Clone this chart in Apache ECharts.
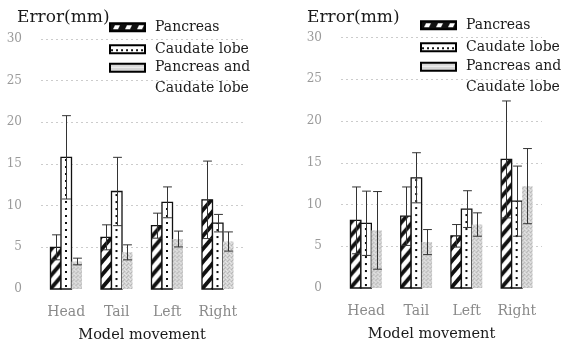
<!DOCTYPE html>
<html>
<head>
<meta charset="utf-8">
<script src="https://cdn.jsdelivr.net/npm/echarts@6/dist/echarts.min.js"></script>
<style>
html,body{margin:0;padding:0;background:#fff;}
#chart{width:567px;height:342px;}
</style>
</head>
<body>
<div id="chart"></div>
<script>
// ---- data ----
const categories = ['Head', 'Tail', 'Left', 'Right'];
const seriesNames = ['Pancreas', 'Caudate lobe', 'Pancreas and Caudate lobe'];
const yMin = 0, yMax = 30, yStep = 5;

// left panel: mean and SD
const leftPancreas   = [5.0, 6.2, 7.6, 10.7];
const leftPancreasSD = [1.5, 1.5, 1.5, 4.65];
const leftCaudate    = [15.8, 11.7, 10.4, 7.9];
const leftCaudateSD  = [5.0, 4.1, 1.85, 1.05];
const leftBoth       = [3.3, 4.4, 6.0, 5.7];
const leftBothSD     = [0.4, 0.9, 0.95, 1.15];

// right panel: mean and SD
const rightPancreas   = [8.1, 8.6, 6.25, 15.4];
const rightPancreasSD = [4.0, 3.5, 1.35, 7.0];
const rightCaudate    = [7.75, 13.2, 9.45, 10.4];
const rightCaudateSD  = [3.85, 3.0, 2.2, 4.2];
const rightBoth       = [6.9, 5.5, 7.6, 12.2];
const rightBothSD     = [4.65, 1.5, 1.4, 4.5];

// ---- patterns ----
function makeTile(w, h, draw) {
  const c = document.createElement('canvas');
  c.width = w; c.height = h;
  const ctx = c.getContext('2d');
  draw(ctx, w, h);
  return { image: c, repeat: 'repeat' };
}
const stripePattern = makeTile(11, 13, (ctx, w, h) => {
  ctx.fillStyle = '#fff'; ctx.fillRect(0, 0, w, h);
  ctx.strokeStyle = '#111'; ctx.lineWidth = 3.8;
  for (let k = -1; k <= 1; k++) {
    ctx.beginPath();
    ctx.moveTo(-2, k * h + h + 2 * h / w);
    ctx.lineTo(w + 2, k * h - 2 * h / w);
    ctx.stroke();
  }
});
const dotPattern = makeTile(10, 7, (ctx, w, h) => {
  ctx.fillStyle = '#fff'; ctx.fillRect(0, 0, w, h);
  ctx.fillStyle = '#111'; ctx.fillRect(4, 3, 2, 2);
});
const grayPattern = makeTile(4, 4, (ctx, w, h) => {
  ctx.fillStyle = '#d2d2d2'; ctx.fillRect(0, 0, w, h);
  ctx.fillStyle = '#b8b8b8'; ctx.fillRect(0, 0, 1, 1); ctx.fillRect(2, 2, 1, 1); ctx.fillRect(1, 3, 1, 1);
  ctx.fillStyle = '#e6e6e6'; ctx.fillRect(2, 0, 1, 1); ctx.fillRect(0, 2, 1, 1); ctx.fillRect(3, 1, 1, 1);
});
// legend swatches
const legStripe = makeTile(12, 8, (ctx, w, h) => {
  ctx.fillStyle = '#111'; ctx.fillRect(0, 0, w, h);
  ctx.fillStyle = '#fff';
  ctx.beginPath(); ctx.moveTo(3, 6); ctx.lineTo(8, 6); ctx.lineTo(10, 2); ctx.lineTo(5, 2); ctx.closePath(); ctx.fill();
});
const legDot = makeTile(5, 8, (ctx, w, h) => {
  ctx.fillStyle = '#fff'; ctx.fillRect(0, 0, w, h);
  ctx.fillStyle = '#111'; ctx.fillRect(1, 4, 2, 2);
});
const legGray = makeTile(4, 8, (ctx, w, h) => {
  ctx.fillStyle = '#d6d6d6'; ctx.fillRect(0, 0, w, h);
  ctx.fillStyle = '#f2f2f2'; ctx.fillRect(0, 3, w, 1);
});

const fontFamily = '"DejaVu Serif", serif';
const barStyles = [
  { fill: stripePattern, stroke: '#111', lineWidth: 1.3 },
  { fill: dotPattern, stroke: '#111', lineWidth: 1.3 },
  { fill: grayPattern, stroke: null, lineWidth: 0 }
];
const BAR_FRAC = 0.208;

function barSeries(name, idx, gridIdx, means) {
  return {
    type: 'custom', name: name,
    xAxisIndex: gridIdx, yAxisIndex: gridIdx,
    itemStyle: { color: barStyles[idx].fill, borderColor: '#111', borderWidth: 1.3 },
    encode: { x: 0, y: 1 },
    data: means.map((v, i) => [i, v]),
    z: 2,
    renderItem: function (params, api) {
      const base = api.coord([api.value(0), 0]);
      const top = api.coord([api.value(0), api.value(1)]);
      const band = api.size([1, 0])[0];
      const w = band * BAR_FRAC;
      const cx = base[0] + (idx - 1) * w;
      const st = barStyles[idx];
      return {
        type: 'rect',
        x: cx - w / 2, y: base[1],
        shape: { x: 0, y: top[1] - base[1], width: w, height: base[1] - top[1] },
        style: { fill: st.fill, stroke: st.stroke, lineWidth: st.lineWidth }
      };
    }
  };
}
function errSeries(name, idx, gridIdx, means, sds) {
  return {
    type: 'custom', name: name + ' SD',
    xAxisIndex: gridIdx, yAxisIndex: gridIdx,
    encode: { x: 0, y: [1, 2] },
    data: means.map((v, i) => [i, v + sds[i], v - sds[i]]),
    z: 3,
    renderItem: function (params, api) {
      const hi = api.coord([api.value(0), api.value(1)]);
      const lo = api.coord([api.value(0), api.value(2)]);
      const band = api.size([1, 0])[0];
      const w = band * BAR_FRAC;
      const cx = Math.round(hi[0] + (idx - 1) * w) + 0.5;
      const cap = w * 0.42;
      const ls = { stroke: '#333', lineWidth: 1 };
      return {
        type: 'group',
        children: [
          { type: 'line', shape: { x1: cx, y1: hi[1], x2: cx, y2: lo[1] }, style: ls },
          { type: 'line', shape: { x1: cx - cap, y1: hi[1], x2: cx + cap, y2: hi[1] }, style: ls },
          { type: 'line', shape: { x1: cx - cap, y1: lo[1], x2: cx + cap, y2: lo[1] }, style: ls }
        ]
      };
    }
  };
}

const panels = [
  { means: [leftPancreas, leftCaudate, leftBoth], sds: [leftPancreasSD, leftCaudateSD, leftBothSD] },
  { means: [rightPancreas, rightCaudate, rightBoth], sds: [rightPancreasSD, rightCaudateSD, rightBothSD] }
];
const series = [];
panels.forEach((p, g) => {
  seriesNames.forEach((n, k) => series.push(barSeries(n, k, g, p.means[k])));
  seriesNames.forEach((n, k) => series.push(errSeries(n, k, g, p.means[k], p.sds[k])));
});

const grids = [
  { left: 41, width: 202, top: 39, height: 250, containLabel: false, outerBoundsMode: 'none' },
  { left: 341, width: 201, top: 37.5, height: 250.5, containLabel: false, outerBoundsMode: 'none' }
];
const legendText = { fontFamily: fontFamily, fontSize: 14, color: '#1a1a1a', lineHeight: 20.5, padding: [0, 0, 0, 5] };
function legends(left, top1, top2) {
  return [
    {
      orient: 'vertical', left: left, top: top1, padding: 0, itemGap: 1.5,
      itemWidth: 35, itemHeight: 8, icon: 'rect', selectedMode: false,
      textStyle: legendText,
      data: [
        { name: seriesNames[0], itemStyle: { color: legStripe, borderColor: '#000', borderWidth: 2 } },
        { name: seriesNames[1], itemStyle: { color: legDot, borderColor: '#000', borderWidth: 2 } }
      ]
    },
    {
      orient: 'vertical', left: left, top: top2, padding: 0,
      itemWidth: 35, itemHeight: 8, icon: 'rect', selectedMode: false,
      textStyle: legendText,
      formatter: () => ' \nPancreas and\nCaudate lobe',
      data: [
        { name: seriesNames[2], itemStyle: { color: legGray, borderColor: '#000', borderWidth: 2 } }
      ]
    }
  ];
}

const titleStyle = { fontFamily: fontFamily, fontSize: 17, fontWeight: 'normal', color: '#1a1a1a' };
const option = {
  animation: false,
  backgroundColor: '#fff',
  textStyle: { fontFamily: fontFamily },
  title: [
    { text: 'Error(mm)', left: 17, top: 9, padding: 0, textStyle: titleStyle },
    { text: 'Error(mm)', left: 307, top: 9, padding: 0, textStyle: titleStyle }
  ],
  legend: legends(109, 17, 37).concat(legends(420, 15, 36)),
  grid: grids,
  xAxis: grids.map((g, i) => ({
    type: 'category', gridIndex: i, data: categories,
    axisLine: { show: false }, axisTick: { show: false },
    axisLabel: { margin: 16, color: '#8a8a8a', fontFamily: fontFamily, fontSize: 14 },
    name: 'Model movement', nameLocation: 'middle', nameGap: 39,
    nameTextStyle: { color: '#1a1a1a', fontFamily: fontFamily, fontSize: 14.5, padding: i === 1 ? [0, 20, 0, 0] : 0 }
  })),
  yAxis: grids.map((g, i) => ({
    type: 'value', gridIndex: i, min: yMin, max: yMax, interval: yStep,
    axisLine: { show: false }, axisTick: { show: false },
    axisLabel: { margin: 19, color: '#9a9a9a', fontFamily: fontFamily, fontSize: 12 },
    splitLine: { show: true, showMinLine: false, lineStyle: { color: '#cccccc', type: [2, 3], width: 1 } }
  })),
  series: series
};
const chart = echarts.init(document.getElementById('chart'), null, { renderer: 'canvas' });
chart.setOption(option);
</script>
</body>
</html>
